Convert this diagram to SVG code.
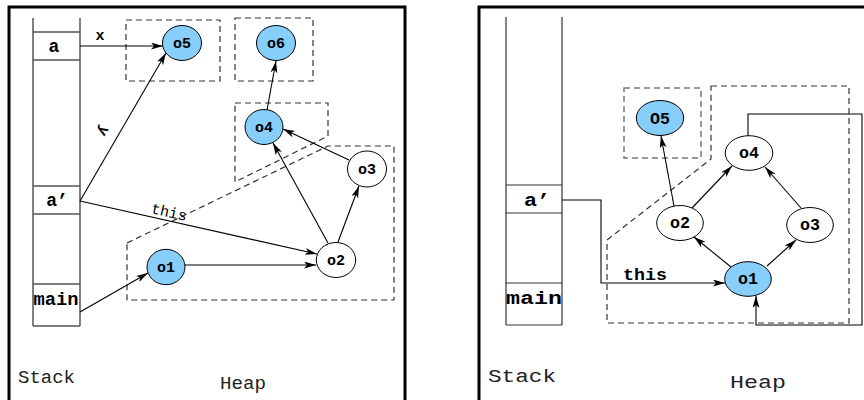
<svg xmlns="http://www.w3.org/2000/svg" width="864" height="400" viewBox="0 0 864 400">
<style>
.frame{fill:none;stroke:#000;stroke-width:3}
.stk{fill:none;stroke:#555;stroke-width:1.5}
.stk2{fill:none;stroke:#333;stroke-width:1.2}
.dash{fill:none;stroke:#333;stroke-width:1.2;stroke-dasharray:6,4}
.dashg{fill:none;stroke:#777;stroke-width:1.5;stroke-dasharray:6,4}
.edge{fill:none;stroke:#000;stroke-width:1.1;marker-end:url(#ah)}
.line{fill:none;stroke:#000;stroke-width:1.1}
.blue{fill:#87cefa;stroke:#000;stroke-width:1}
.white{fill:#fff;stroke:#000;stroke-width:1}
.lbl{font-family:"Liberation Mono","Courier New",monospace;font-weight:bold;font-size:15px;text-anchor:middle;fill:#000}
.lbl2{font-family:"Liberation Mono","Courier New",monospace;font-weight:bold;font-size:16px;text-anchor:middle;fill:#000}
.stxt{font-family:"Liberation Mono","Courier New",monospace;font-weight:bold;font-size:18px;text-anchor:middle;fill:#000}
.big{font-family:"Liberation Mono","Courier New",monospace;font-size:19px;fill:#222}
.elbl{font-family:"Liberation Mono","Courier New",monospace;font-size:15px;fill:#000;text-anchor:middle}
</style>
<defs>
<marker id="ah" markerUnits="userSpaceOnUse" markerWidth="13" markerHeight="8" refX="12" refY="3.5" orient="auto">
<path d="M0,0 L12,3.5 L0,7 L3,3.5 z" fill="#000"/>
</marker>
</defs>

<!-- frames -->
<path class="frame" d="M9,410 V7 H405 V410"/>
<path class="frame" d="M479,410 V7 H866"/>

<!-- LEFT PANEL -->
<g id="stack-left">
<path class="stk" d="M33,18 V326 M80,18 V326 M33,32 H80 M33,60 H80 M33,186 H80 M33,214 H80 M33,284 H80 M33,326 H80"/>
<text class="stxt" x="54" y="52">a</text>
<text class="stxt" x="57" y="206">a’</text>
<text class="stxt" x="56" y="305" textLength="45" lengthAdjust="spacingAndGlyphs">main</text>
</g>
<g id="regions-left">
<rect class="dash" x="126" y="20" width="94" height="61"/>
<rect class="dash" x="235" y="18" width="78" height="63"/>
<polygon class="dash" points="235,103 328,103 328,136 235,182"/>
<polygon class="dash" points="127,243 328,146 394,146 394,300 127,300"/>
</g>
<g id="edges-left">
<path class="edge" d="M80,46 L163,46"/>
<path class="edge" d="M80,201 L166,53"/>
<path class="edge" d="M80,201 L317,254"/>
<path class="edge" d="M80,312 L148,273"/>
<path class="edge" d="M185,265 L316,265"/>
<path class="edge" d="M328,243 L273,143"/>
<path class="edge" d="M338,242 L359,186"/>
<path class="edge" d="M349,160 L283,129"/>
<path class="edge" d="M267,110 L276,61"/>
<text class="lbl" x="100" y="40">x</text>
<text class="lbl" transform="translate(103,131) rotate(121)" y="4">y</text>
<text class="elbl" transform="translate(169,213) rotate(12.7)" y="4" textLength="36" lengthAdjust="spacingAndGlyphs">this</text>
</g>
<g id="o5-left"><ellipse class="blue" cx="182" cy="43" rx="19.5" ry="17.5"/><text class="lbl" x="182" y="48">o5</text></g>
<g id="o6-left"><ellipse class="blue" cx="276" cy="43" rx="19.5" ry="17.5"/><text class="lbl" x="276" y="48">o6</text></g>
<g id="o4-left"><ellipse class="blue" cx="264" cy="127" rx="19" ry="17.5"/><text class="lbl" x="264" y="132">o4</text></g>
<g id="o3-left"><ellipse class="white" cx="367" cy="169" rx="19.5" ry="18"/><text class="lbl" x="367" y="174">o3</text></g>
<g id="o2-left"><ellipse class="white" cx="336" cy="260" rx="19.7" ry="17.5"/><text class="lbl" x="336" y="265">o2</text></g>
<g id="o1-left"><ellipse class="blue" cx="166" cy="267" rx="19" ry="17.7"/><text class="lbl" x="166" y="272">o1</text></g>
<text class="big" x="18" y="383" textLength="57" lengthAdjust="spacingAndGlyphs">Stack</text>
<text class="big" x="220" y="389" textLength="46" lengthAdjust="spacingAndGlyphs">Heap</text>

<!-- RIGHT PANEL -->
<g id="stack-right">
<path class="stk2" d="M506,17 V325 M562,17 V325 M506,185 H562 M506,213 H562 M506,283 H562 M506,325 H562"/>
<text class="stxt" x="537" y="206" textLength="26" lengthAdjust="spacingAndGlyphs">a’</text>
<text class="stxt" x="534" y="304" textLength="56" lengthAdjust="spacingAndGlyphs">main</text>
</g>
<g id="regions-right">
<rect class="dashg" x="624" y="88" width="77" height="70"/>
<polygon class="dash" points="711,86 849,86 849,323 607,323 607,240 711,159"/>
</g>
<g id="edges-right">
<path class="edge" d="M562,200 H601 V283 H725"/>
<path class="edge" d="M748,136 V114 H862 V325 H756 V296"/>
<path class="edge" d="M731,267 L694,237"/>
<path class="edge" d="M767,266 L796,240"/>
<path class="edge" d="M692,208 L732,166"/>
<path class="edge" d="M801,208 L765,167"/>
<path class="edge" d="M674,206 L661,136"/>
<text class="lbl2" x="645" y="280" textLength="44" lengthAdjust="spacingAndGlyphs">this</text>
</g>
<g id="o5-right"><ellipse class="blue" cx="660" cy="118" rx="23.7" ry="17.5"/><text class="lbl2" x="660" y="124" textLength="20" lengthAdjust="spacingAndGlyphs">O5</text></g>
<g id="o4-right"><ellipse class="white" cx="749" cy="153" rx="23.8" ry="17.3"/><text class="lbl2" x="749" y="158" textLength="20" lengthAdjust="spacingAndGlyphs">o4</text></g>
<g id="o2-right"><ellipse class="white" cx="680" cy="223" rx="23.3" ry="17.5"/><text class="lbl2" x="680" y="228" textLength="20" lengthAdjust="spacingAndGlyphs">o2</text></g>
<g id="o3-right"><ellipse class="white" cx="810" cy="225" rx="23.3" ry="17.5"/><text class="lbl2" x="810" y="230" textLength="20" lengthAdjust="spacingAndGlyphs">o3</text></g>
<g id="o1-right"><ellipse class="blue" cx="748" cy="279" rx="23.3" ry="17.3"/><text class="lbl2" x="748" y="284" textLength="20" lengthAdjust="spacingAndGlyphs">o1</text></g>
<text class="big" x="488" y="382" textLength="68" lengthAdjust="spacingAndGlyphs">Stack</text>
<text class="big" x="730" y="388" textLength="56" lengthAdjust="spacingAndGlyphs">Heap</text>
</svg>
